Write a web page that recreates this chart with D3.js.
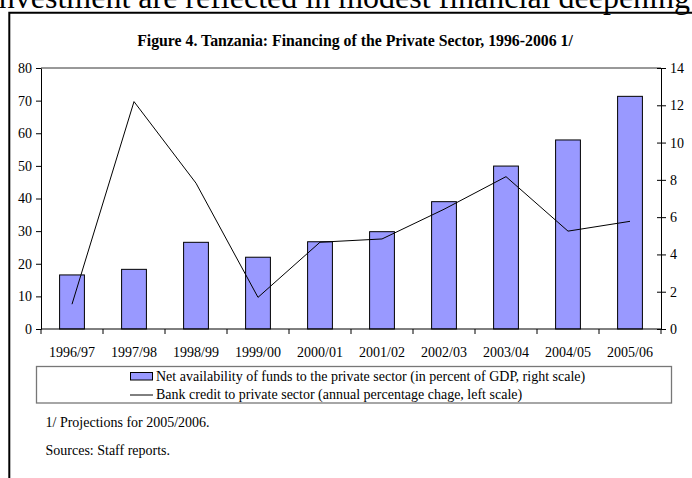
<!DOCTYPE html>
<html>
<head>
<meta charset="utf-8">
<script src="https://cdn.jsdelivr.net/npm/d3@7"></script>
<style>
  html, body { margin: 0; padding: 0; background: #fff; }
  svg { display: block; }
  text { font-family: "Liberation Serif", "Times New Roman", serif; }
</style>
</head>
<body>
<svg id="chart" width="692" height="478"></svg>
<script>
const categories = ["1996/97","1997/98","1998/99","1999/00","2000/01","2001/02","2002/03","2003/04","2004/05","2005/06"];
// Net availability of funds (percent of GDP, right scale)
const fundsValues = [2.9, 3.2, 4.65, 3.85, 4.68, 5.22, 6.83, 8.74, 10.14, 12.48];
// Bank credit growth (annual percentage change, left scale)
const creditValues = [7.6, 69.7, 44.7, 9.7, 26.6, 27.6, 36.7, 46.7, 30.0, 33.0];
const leftTicks = [0, 10, 20, 30, 40, 50, 60, 70, 80];
const rightTicks = [0, 2, 4, 6, 8, 10, 12, 14];
const titleText = "Figure 4. Tanzania: Financing of the Private Sector, 1996-2006 1/";
const legendLabels = [
  "Net availability of funds to the private sector (in percent of GDP, right scale)",
  "Bank credit to private sector (annual percentage chage, left scale)"
];
const footnotes = ["1/ Projections for 2005/2006.", "Sources: Staff reports."];
const pageText = "investment are reflected in modest financial deepening";

const svg = d3.select("#chart");
const L = 41, R = 661, T = 68, B = 329;

// page text clipped at the top
svg.append("text").attr("x", 690).attr("y", 8).attr("text-anchor", "end")
  .attr("font-size", 32).attr("fill", "#000").text(pageText);

// outer frame
svg.append("path").attr("d", `M9.3,478 V12.7 H700`).attr("fill", "none")
  .attr("stroke", "#000").attr("stroke-width", 2);

// title
svg.append("text").attr("x", 355).attr("y", 46).attr("text-anchor", "middle")
  .attr("font-size", 15.8).attr("font-weight", "bold").text(titleText);

const x = d3.scaleBand().domain(categories).range([L, R]).padding(0);
const yL = d3.scaleLinear().domain([0, 80]).range([B, T]);
const yR = d3.scaleLinear().domain([0, 14]).range([B, T]);

// plot top border
svg.append("line").attr("x1", L).attr("x2", R).attr("y1", T).attr("y2", T)
  .attr("stroke", "#333").attr("stroke-width", 1);

// bars
const bw = x.bandwidth() * 0.4;
svg.append("g").selectAll("rect").data(fundsValues).join("rect")
  .attr("x", (d, i) => x(categories[i]) + x.bandwidth() / 2 - bw / 2)
  .attr("y", d => yR(d))
  .attr("width", bw)
  .attr("height", d => yR(0) - yR(d))
  .attr("fill", "#9999FF")
  .attr("stroke", "#000").attr("stroke-width", 1);

// line
const line = d3.line()
  .x((d, i) => x(categories[i]) + x.bandwidth() / 2)
  .y(d => yL(d));
svg.append("path").datum(creditValues).attr("d", line)
  .attr("fill", "none").attr("stroke", "#000").attr("stroke-width", 1);

// left axis
const gL = svg.append("g").attr("transform", `translate(${L},0)`)
  .call(d3.axisLeft(yL).tickValues(leftTicks).tickSize(5).tickSizeOuter(0).tickPadding(4));
// right axis
const gR = svg.append("g").attr("transform", `translate(${R},0)`)
  .call(d3.axisRight(yR).tickValues(rightTicks).tickSize(5).tickSizeOuter(0).tickPadding(4));
gR.selectAll(".tick line").attr("x1", -4);
// bottom axis labels
const gB = svg.append("g").attr("transform", `translate(0,${B})`)
  .call(d3.axisBottom(x).tickSize(0).tickPadding(18));
gB.select(".domain").remove();
// bottom axis line and boundary ticks
svg.append("line").attr("x1", L).attr("x2", R).attr("y1", B).attr("y2", B)
  .attr("stroke", "#000").attr("stroke-width", 1);
const bounds = categories.map(c => x(c)).concat([x.range()[1]]);
svg.append("g").selectAll("line").data(bounds).join("line")
  .attr("x1", d => d).attr("x2", d => d).attr("y1", B).attr("y2", B + 5)
  .attr("stroke", "#000").attr("stroke-width", 1);

[gL, gR, gB].forEach(g => {
  g.selectAll("text").attr("font-family", "Liberation Serif, Times New Roman, serif")
    .attr("font-size", 14).attr("fill", "#000");
  g.selectAll("line, path").attr("stroke", "#000");
});

// legend
const lg = svg.append("g");
lg.append("rect").attr("x", 36.5).attr("y", 366.5).attr("width", 635).attr("height", 36.5)
  .attr("fill", "#fff").attr("stroke", "#777").attr("stroke-width", 1.3);
lg.append("rect").attr("x", 130.5).attr("y", 372.5).attr("width", 22).attr("height", 7.5)
  .attr("fill", "#9999FF").attr("stroke", "#000").attr("stroke-width", 1);
lg.append("line").attr("x1", 130).attr("x2", 153).attr("y1", 395).attr("y2", 395)
  .attr("stroke", "#000").attr("stroke-width", 1);
lg.selectAll("text").data(legendLabels).join("text")
  .attr("x", 156).attr("y", (d, i) => 381 + i * 17.5)
  .attr("font-size", 14).text(d => d);

// footnotes
svg.append("g").selectAll("text").data(footnotes).join("text")
  .attr("x", 45.5).attr("y", (d, i) => 427 + i * 28)
  .attr("font-size", 14).text(d => d);
</script>
</body>
</html>
